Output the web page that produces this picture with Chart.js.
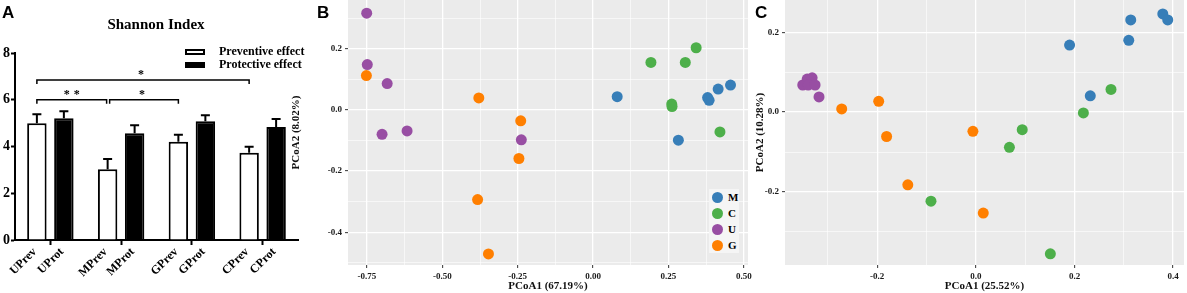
<!DOCTYPE html>
<html lang="en">
<head>
<meta charset="UTF-8">
<title>Shannon Index y PCoA</title>
<script src="https://cdn.jsdelivr.net/npm/chart.js"></script>
<style>
  body { margin:0; width:1187px; height:293px; background:#fff; position:relative; overflow:hidden; font-family:"Liberation Serif", serif; }
  canvas { position:absolute; top:0; }
  .letra { position:absolute; top:3px; line-height:17px; font:bold 17px "Liberation Sans", Arial, sans-serif; color:#000; }
  .titulo { position:absolute; left:56px; width:200px; top:16px; line-height:15px; text-align:center; font:bold 15px "Liberation Serif", serif; }
  .leyendaA { position:absolute; left:185px; top:45px; font:bold 12px "Liberation Serif", serif; }
  .leyendaA .fila { height:13px; display:flex; align-items:center; }
  .leyendaA .caja { width:20px; height:6px; box-sizing:border-box; border:2px solid #000; margin-right:14px; }
  .leyendaB { position:absolute; left:709px; top:189px; width:30px; background:#F5F5F5; font:bold 11px "Liberation Serif", serif; }
  .leyendaB .fila { height:16px; display:flex; align-items:center; }
  .leyendaB .punto { width:11px; height:11px; border-radius:50%; margin:0 5px 0 3px; }
</style>
</head>
<body>
<canvas id="graficaA" width="300" height="293" style="left:0"></canvas>
<canvas id="graficaB" width="462" height="293" style="left:290px"></canvas>
<canvas id="graficaC" width="433" height="293" style="left:754px"></canvas>
<div class="letra" style="left:2px">A</div>
<div class="letra" style="left:317px">B</div>
<div class="letra" style="left:755px">C</div>
<div class="titulo">Shannon Index</div>
<div class="leyendaA" id="leyendaA"></div>
<div class="leyendaB" id="leyendaB"></div>
<script>
// ---- Panel A: indice de Shannon ----
const grupos = ['U', 'M', 'G', 'C'];
const etiquetasBarras = ['UPrev', 'UProt', 'MPrev', 'MProt', 'GPrev', 'GProt', 'CPrev', 'CProt'];
const preventivo = [5.0, 3.03, 4.2, 3.73];
const preventivoErr = [0.38, 0.44, 0.30, 0.26];
const protectivo = [5.21, 4.57, 5.08, 4.83];
const protectivoErr = [0.30, 0.34, 0.26, 0.35];
// [grupo inicio, grupo fin, estrellas, altura]
const significancia = [[0, 1, '**', 6.0], [1, 2, '*', 6.0], [0, 3, '*', 6.85]];

// ---- Panel B: PCoA (67.19% / 8.02%) ----
const bM = [[0.080, 0.043], [0.380, 0.040], [0.385, 0.031], [0.415, 0.068], [0.456, 0.081], [0.283, -0.099]];
const bC = [[0.342, 0.203], [0.192, 0.155], [0.306, 0.155], [0.261, 0.019], [0.262, 0.011], [0.421, -0.072]];
const bU = [[-0.751, 0.316], [-0.749, 0.148], [-0.683, 0.086], [-0.700, -0.080], [-0.617, -0.069], [-0.238, -0.098]];
const bG = [[-0.752, 0.112], [-0.379, 0.039], [-0.240, -0.036], [-0.246, -0.159], [-0.383, -0.293], [-0.347, -0.471]];
const bTicksX = [-0.75, -0.5, -0.25, 0, 0.25, 0.5];
const bTicksY = [-0.4, -0.2, 0, 0.2];

// ---- Panel C: PCoA (25.52% / 10.28%) ----
const cM = [[0.190, 0.168], [0.232, 0.041], [0.310, 0.180], [0.314, 0.231], [0.379, 0.246], [0.389, 0.231]];
const cC = [[0.094, -0.044], [0.068, -0.088], [-0.091, -0.223], [0.151, -0.355], [0.218, -0.002], [0.274, 0.057]];
const cU = [[-0.351, 0.068], [-0.342, 0.083], [-0.332, 0.086], [-0.340, 0.068], [-0.326, 0.068], [-0.318, 0.038]];
const cG = [[-0.272, 0.008], [-0.197, 0.027], [-0.181, -0.061], [-0.138, -0.182], [0.015, -0.253], [-0.006, -0.048]];
const cTicksX = [-0.2, 0, 0.2, 0.4];
const cTicksY = [-0.2, 0, 0.2];

const colores = { M: '#377EB8', C: '#4DAF4A', U: '#984EA3', G: '#FF7F00' };
const serif = '"Liberation Serif", "Times New Roman", serif';

// barras de error (solo hacia arriba)
const barrasError = {
  id: 'barrasError',
  afterDatasetsDraw(chart) {
    const { ctx } = chart;
    const y = chart.scales.y;
    ctx.save();
    ctx.strokeStyle = '#000';
    ctx.lineWidth = 2;
    chart.data.datasets.forEach((ds, d) => {
      chart.getDatasetMeta(d).data.forEach((el, i) => {
        const top = y.getPixelForValue(ds.data[i] + ds.errores[i]);
        ctx.beginPath();
        ctx.moveTo(el.x, el.y);
        ctx.lineTo(el.x, top);
        ctx.moveTo(el.x - 4.5, top);
        ctx.lineTo(el.x + 4.5, top);
        ctx.stroke();
      });
    });
    ctx.restore();
  }
};

// corchetes de significancia
const corchetes = {
  id: 'corchetes',
  afterDraw(chart) {
    const { ctx } = chart;
    const barras = chart.getDatasetMeta(0).data;
    ctx.save();
    ctx.strokeStyle = '#000';
    ctx.fillStyle = '#000';
    ctx.lineWidth = 1.5;
    ctx.font = 'bold 12px ' + serif;
    ctx.textAlign = 'center';
    ctx.letterSpacing = '4px';
    significancia.forEach(([a, b, txt, alto], k) => {
      const x1 = barras[a].x + (k == 1 ? 2 : 0);
      const x2 = barras[b].x - (k == 0 ? 1 : 0);
      const yy = chart.scales.y.getPixelForValue(alto);
      ctx.beginPath();
      ctx.moveTo(x1, yy + 4);
      ctx.lineTo(x1, yy);
      ctx.lineTo(x2, yy);
      ctx.lineTo(x2, yy + 4);
      ctx.stroke();
      ctx.fillText(txt, (x1 + x2) / 2 + (txt.length > 1 ? 2 : 0), yy - 2);
    });
    ctx.restore();
  }
};

// etiquetas giradas debajo de cada barra
const etiquetasGiradas = {
  id: 'etiquetasGiradas',
  afterDraw(chart) {
    const { ctx } = chart;
    const base = chart.scales.x.top;
    ctx.save();
    ctx.font = 'bold 12px ' + serif;
    ctx.fillStyle = '#000';
    ctx.textAlign = 'right';
    ctx.textBaseline = 'middle';
    chart.data.datasets.forEach((ds, d) => {
      chart.getDatasetMeta(d).data.forEach((el, i) => {
        ctx.save();
        ctx.translate(el.x - 2, base + 10);
        ctx.rotate(-Math.PI / 4);
        ctx.fillText(etiquetasBarras[i * 2 + d], 0, 0);
        ctx.restore();
      });
    });
    ctx.restore();
  }
};

const chartA = new Chart(document.getElementById('graficaA'), {
  type: 'bar',
  data: {
    labels: grupos,
    datasets: [
      { label: 'Preventive effect', data: preventivo, errores: preventivoErr, backgroundColor: '#fff', borderColor: '#000', borderWidth: 2 },
      { label: 'Protective effect', data: protectivo, errores: protectivoErr, backgroundColor: '#000', borderColor: '#000', borderWidth: 2 }
    ]
  },
  options: {
    responsive: false,
    animation: false,
    categoryPercentage: 0.763,
    barPercentage: 0.72,
    layout: { padding: { top: 53, right: 2 } },
    plugins: { legend: { display: false }, tooltip: { enabled: false } },
    scales: {
      x: {
        ticks: { display: false },
        grid: { offset: false, drawOnChartArea: false, tickLength: 5, tickColor: '#000', tickWidth: 2 },
        border: { color: '#000', width: 2 },
        afterFit: s => { s.height = 53; }
      },
      y: {
        min: 0, max: 8,
        ticks: { stepSize: 2, color: '#000', padding: 1, font: { family: serif, size: 14, weight: 'bold' } },
        grid: { drawOnChartArea: false, tickLength: 4, tickColor: '#000', tickWidth: 2 },
        border: { color: '#000', width: 2 },
        afterFit: s => { s.width = 15; }
      }
    }
  },
  plugins: [barrasError, corchetes, etiquetasGiradas]
});

// leyenda del panel A a partir de los datasets
chartA.data.datasets.forEach(ds => {
  const fila = document.createElement('div');
  fila.className = 'fila';
  const caja = document.createElement('span');
  caja.className = 'caja';
  caja.style.background = ds.backgroundColor;
  fila.appendChild(caja);
  fila.appendChild(document.createTextNode(ds.label));
  document.getElementById('leyendaA').appendChild(fila);
});

// ---- graficas PCoA estilo ggplot ----
const fondoGris = {
  id: 'fondoGris',
  beforeDraw(chart) {
    const { ctx, chartArea: a } = chart;
    ctx.save();
    ctx.fillStyle = '#EBEBEB';
    ctx.fillRect(a.left, a.top, a.width, a.height);
    ctx.restore();
  }
};

function conMenores(mayores, min, max) {
  const paso = mayores[1] - mayores[0];
  const todos = [];
  for (let i = -1; i < mayores.length; i++) {
    const m = (i < 0 ? mayores[0] - paso : mayores[i]) + paso / 2;
    if (i >= 0) todos.push(mayores[i]);
    if (m > min && m < max) todos.push(m);
  }
  return todos.filter(v => v >= min && v <= max).sort((a, b) => a - b);
}

function esMayor(v, mayores) {
  return mayores.some(m => Math.abs(m - v) < 1e-9);
}

function ejeGgplot(min, max, mayores, decimales, titulo, tam) {
  return {
    type: 'linear',
    min: min, max: max,
    afterBuildTicks: s => { s.ticks = conMenores(mayores, min, max).map(v => ({ value: v })); },
    afterFit: s => {
      if (s.isHorizontal()) s.height = tam; else s.width = tam;
      s.paddingTop = 0; s.paddingBottom = 0; s.paddingLeft = 0; s.paddingRight = 0;
    },
    ticks: {
      autoSkip: false, maxRotation: 0, padding: 3, color: '#1a1a1a',
      font: { family: serif, size: 9, weight: 'bold' },
      callback: v => esMayor(v, mayores) ? v.toFixed(decimales) : ''
    },
    grid: {
      color: '#fff',
      lineWidth: c => esMayor(c.tick.value, mayores) ? 1.3 : 0.6,
      tickLength: 3,
      tickWidth: 1,
      tickColor: c => esMayor(c.tick.value, mayores) ? '#333' : 'rgba(0,0,0,0)'
    },
    border: { display: false },
    title: { display: true, text: titulo, color: '#111', padding: 0, font: { family: serif, size: 11, weight: 'bold' } }
  };
}

function serie(nombre, puntos) {
  return {
    label: nombre,
    data: puntos.map(p => ({ x: p[0], y: p[1] })),
    backgroundColor: colores[nombre],
    borderWidth: 0,
    pointRadius: 5.5
  };
}

function graficaPCoA(id, series, ejeX, ejeY, derecha) {
  return new Chart(document.getElementById(id), {
    type: 'scatter',
    data: { datasets: series },
    options: {
      responsive: false,
      animation: false,
      layout: { autoPadding: false, padding: { top: 0, right: derecha, left: 0, bottom: 0 } },
      plugins: { legend: { display: false }, tooltip: { enabled: false } },
      scales: { x: ejeX, y: ejeY }
    },
    plugins: [fondoGris]
  });
}

const chartB = graficaPCoA('graficaB',
  [serie('M', bM), serie('C', bC), serie('U', bU), serie('G', bG)],
  ejeGgplot(-0.813, 0.514, bTicksX, 2, 'PCoA1 (67.19%)', 28),
  ejeGgplot(-0.507, 0.359, bTicksY, 1, 'PCoA2 (8.02%)', 58),
  4);

const chartC = graficaPCoA('graficaC',
  [serie('M', cM), serie('C', cC), serie('U', cU), serie('G', cG)],
  ejeGgplot(-0.387, 0.422, cTicksX, 1, 'PCoA1 (25.52%)', 28),
  ejeGgplot(-0.383, 0.281, cTicksY, 1, 'PCoA2 (10.28%)', 31),
  3);

// leyenda del panel B
chartB.data.datasets.forEach(ds => {
  const fila = document.createElement('div');
  fila.className = 'fila';
  const punto = document.createElement('span');
  punto.className = 'punto';
  punto.style.background = ds.backgroundColor;
  fila.appendChild(punto);
  fila.appendChild(document.createTextNode(ds.label));
  document.getElementById('leyendaB').appendChild(fila);
});
</script>
</body>
</html>
